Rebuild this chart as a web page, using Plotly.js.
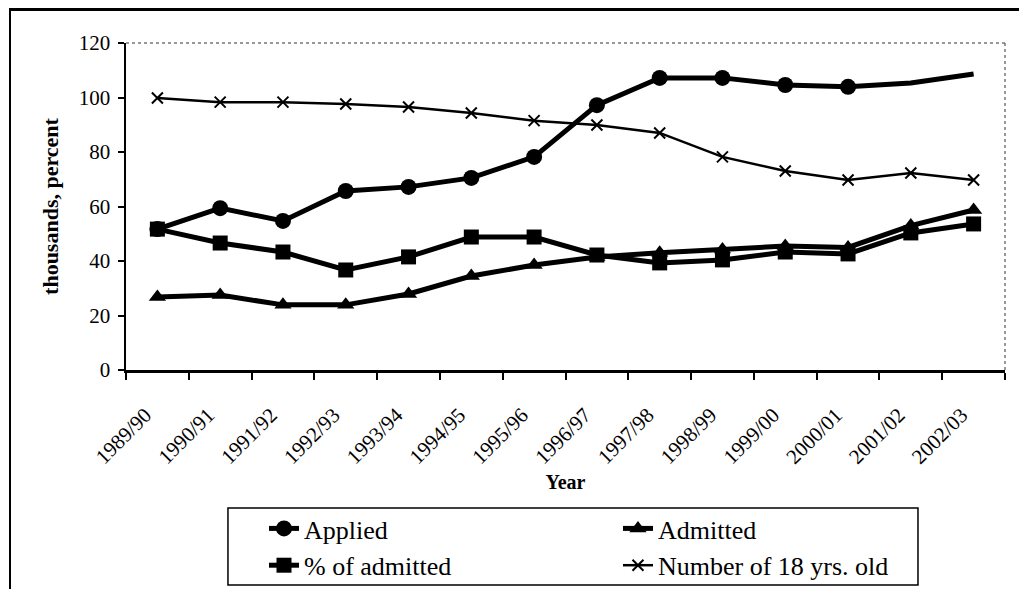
<!DOCTYPE html>
<html>
<head>
<meta charset="utf-8">
<script src="https://cdn.plot.ly/plotly-3.0.1.min.js"></script>
<style>
  html, body { margin: 0; padding: 0; background: #fff; }
  #wrap { position: relative; width: 1019px; height: 589px; overflow: hidden; }
  #chart { width: 1019px; height: 589px; }
  #frame { position: absolute; left: 9px; top: 8px; width: 1020px; height: 600px;
           border-top: 3px solid #000; border-left: 2px solid #000; pointer-events: none; }
</style>
</head>
<body>
<div id="wrap">
  <div id="chart"></div>
  <div id="frame"></div>
</div>
<script>
const years = ["1989/90","1990/91","1991/92","1992/93","1993/94","1994/95","1995/96",
               "1996/97","1997/98","1998/99","1999/00","2000/01","2001/02","2002/03"];
const applied   = [51.7, 59.4, 54.7, 65.7, 67.2, 70.5, 78.2, 97.2, 107.2, 107.2, 104.6, 103.9, 105.3, 108.6];
const admitted  = [26.8, 27.5, 23.9, 23.9, 27.9, 34.5, 38.5, 41.5, 43.0, 44.2, 45.5, 45.0, 53.0, 58.7];
const pctAdmitted = [51.7, 46.6, 43.3, 36.7, 41.5, 48.8, 48.8, 42.2, 39.3, 40.4, 43.3, 42.6, 50.3, 53.6];
const num18     = [99.8, 98.3, 98.3, 97.6, 96.5, 94.3, 91.5, 89.9, 87.0, 78.2, 73.0, 69.7, 72.3, 69.7];
const seriesNames = ["Applied", "Admitted", "% of admitted", "Number of 18 yrs. old"];

const FONT = "Liberation Serif, Times New Roman, serif";
// Applied has no visible markers on the last two years (stroke-only symbol with zero stroke)
const appliedSymbols = applied.map((v, i) => i >= 12 ? "line-ew" : "circle");

const traces = [
  { x: years, y: applied, name: seriesNames[0], type: "scatter", mode: "lines+markers",
    line: { color: "#000", width: 5 },
    marker: { symbol: appliedSymbols, size: 16, color: "#000", line: { width: 0 } } },
  { x: years, y: admitted, name: seriesNames[1], type: "scatter", mode: "lines+markers",
    line: { color: "#000", width: 5 }, marker: { symbol: "triangle-up", size: 15, color: "#000" } },
  { x: years, y: pctAdmitted, name: seriesNames[2], type: "scatter", mode: "lines+markers",
    line: { color: "#000", width: 5 }, marker: { symbol: "square", size: 15, color: "#000" } },
  { x: years, y: num18, name: seriesNames[3], type: "scatter", mode: "lines+markers",
    line: { color: "#000", width: 2.5 },
    marker: { symbol: "x-thin", size: 11, color: "#000", line: { color: "#000", width: 2 } } }
];

const layout = {
  width: 1019, height: 589,
  margin: { l: 126, r: 14, t: 43, b: 219 },
  paper_bgcolor: "#fff", plot_bgcolor: "#fff",
  font: { family: FONT, color: "#000" },
  showlegend: true,
  xaxis: {
    type: "category", range: [-0.5, 13.5], automargin: false,
    tickson: "boundaries", ticks: "outside", ticklen: 7, tickwidth: 2, tickcolor: "#000",
    showline: true, linecolor: "#000", linewidth: 2.5, showgrid: false, zeroline: false,
    tickangle: -45, tickfont: { family: FONT, size: 21 },
    ticklabelstandoff: 22, ticklabelshift: -12,
    title: { text: "<b>Year</b>", font: { family: FONT, size: 20 }, standoff: 7 }
  },
  yaxis: {
    range: [0, 120], dtick: 20, ticks: "outside", ticklen: 6, tickwidth: 2, tickcolor: "#000",
    showline: true, linecolor: "#000", linewidth: 2.5, showgrid: false, zeroline: false,
    automargin: false,
    tickfont: { family: FONT, size: 21 }, ticklabelstandoff: 3,
    title: { text: "<b>thousands, percent</b>", font: { family: FONT, size: 22 }, standoff: 14 }
  },
  shapes: [
    { type: "line", xref: "paper", yref: "paper", x0: 0, x1: 1, y0: 1, y1: 1,
      line: { color: "#777", width: 1.5, dash: "dot" } },
    { type: "line", xref: "paper", yref: "paper", x0: 1, x1: 1, y0: 0, y1: 1,
      line: { color: "#777", width: 1.5, dash: "dot" } },
    // legend frame
    { type: "rect", xref: "paper", yref: "paper", x0: 0.116, x1: 0.901, y0: -0.422, y1: -0.6575,
      line: { color: "#000", width: 1.5 }, fillcolor: "rgba(0,0,0,0)" }
  ],
  legend: {
    orientation: "h", xref: "paper", yref: "container",
    x: 0.157, y: 0.1426, xanchor: "left", yanchor: "top",
    entrywidth: 0.4027, entrywidthmode: "fraction",
    borderwidth: 0, bgcolor: "rgba(0,0,0,0)",
    font: { family: FONT, size: 26, color: "#000" },
    traceorder: "normal"
  }
};

Plotly.newPlot("chart", traces, layout, { displayModeBar: false, staticPlot: true });
</script>
</body>
</html>
